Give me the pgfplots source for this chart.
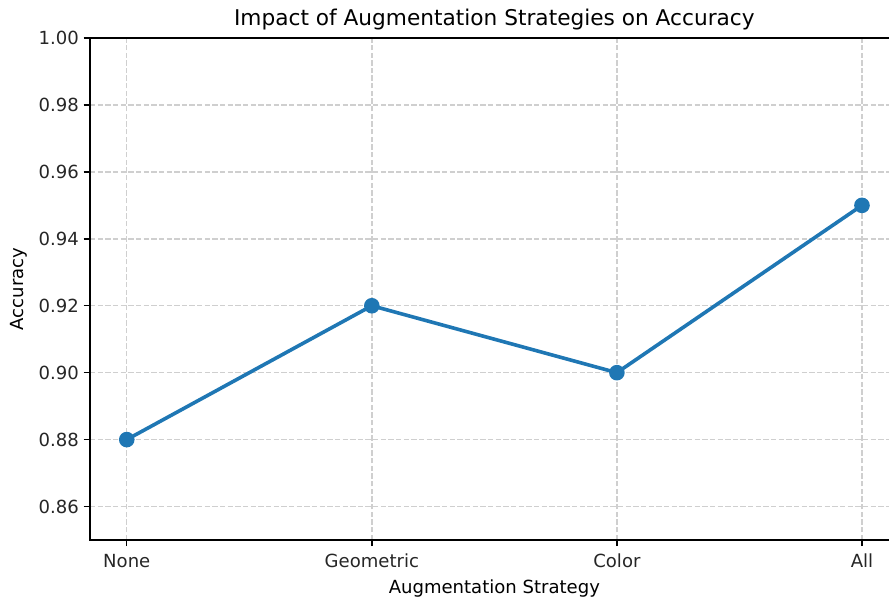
\documentclass[border=0pt]{standalone}
\usepackage{pgfplots}
\pgfplotsset{compat=1.18}
\usepackage{fontspec}
\setmainfont{DejaVu Sans}
\definecolor{tabblue}{HTML}{1F77B4}
\definecolor{gridgray}{HTML}{CFCFCF}
\begin{document}
\begin{tikzpicture}
\useasboundingbox (-64.8pt,-42.5pt) rectangle (575.3pt,388.8pt);
\begin{axis}[
  at={(0,0)}, anchor=south west,
  scale only axis,
  width=582.3pt, height=361.4pt,
  xmin=-0.15, xmax=3.15,
  ymin=0.85, ymax=1.0,
  xtick={0,1,2,3},
  xticklabels={None,Geometric,Color,All},
  ytick={0.86,0.88,0.90,0.92,0.94,0.96,0.98,1.00},
  yticklabel style={/pgf/number format/fixed,/pgf/number format/fixed zerofill,/pgf/number format/precision=2},
  /pgf/number format/assume math mode=true,
  tick label style={font=\fontsize{13pt}{15pt}\selectfont, color=black!85},
  xticklabel style={yshift=-2pt},
  label style={font=\fontsize{13pt}{15pt}\selectfont},
  title style={font=\fontsize{15.6pt}{18pt}\selectfont, yshift=-3.5pt},
  title={Impact of Augmentation Strategies on Accuracy},
  xlabel={Augmentation Strategy},
  ylabel={Accuracy},
  xlabel style={yshift=-2pt},
  ylabel style={yshift=1.3pt},
  tick align=outside,
  major tick length=4.5pt,
  tick style={black, line width=1pt},
  axis line style={black, line width=1pt},
  xtick pos=bottom, ytick pos=left,
  grid=major,
  major grid style={gridgray, line width=1pt, dash pattern=on 3.85pt off 1.66pt},
]
\addplot[tabblue, line width=2.6pt, mark=*, mark size=4.3pt, mark options={solid, fill=tabblue, draw=tabblue}]
  coordinates {(0,0.88) (1,0.92) (2,0.90) (3,0.95)};
\end{axis}
\end{tikzpicture}
\end{document}
